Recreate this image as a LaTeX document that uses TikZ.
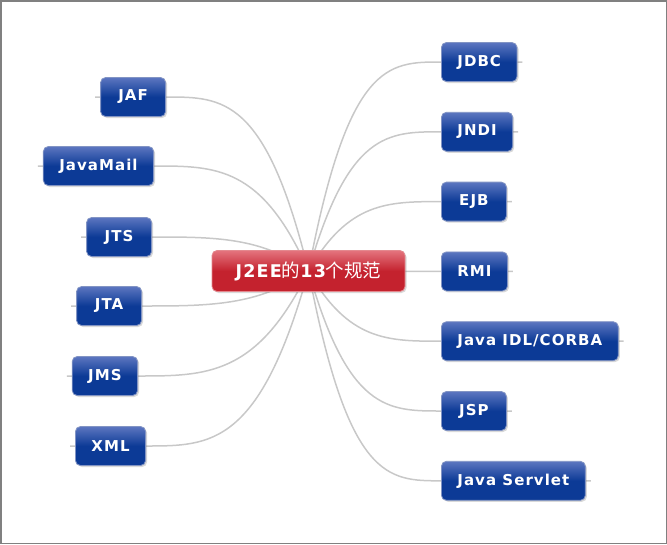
\documentclass[tikz,border=0pt]{standalone}
\usepackage{fontspec}
\usepackage{tikz}
\usetikzlibrary{positioning, calc, backgrounds, shadows}
\newfontfamily\leaffont{DejaVu Sans}[LetterSpace=7]
\newfontfamily\cjkfont{Noto Sans CJK SC}
\definecolor{leaftop}{RGB}{92,118,192}
\definecolor{leafbot}{RGB}{12,58,150}
\definecolor{leafedge}{RGB}{130,148,196}
\definecolor{roottop}{RGB}{228,116,126}
\definecolor{rootbot}{RGB}{196,34,46}
\definecolor{rootedge}{RGB}{228,136,142}
\definecolor{linkgray}{RGB}{200,200,200}
\definecolor{framegray}{RGB}{128,128,128}
\tikzset{
  leaf/.style={rectangle, rounded corners=5pt, draw=leafedge, line width=0.8pt,
               top color=leaftop, bottom color=leafbot, middle color=leafbot,
               minimum width=65pt, minimum height=39pt, inner xsep=16pt,
               text=white, font=\leaffont\bfseries\fontsize{15}{18}\selectfont,
               drop shadow={opacity=0.3, shadow xshift=1.5pt, shadow yshift=-1.5pt}},
  root/.style={leaf, draw=rootedge, top color=roottop, bottom color=rootbot,
               middle color=rootbot, minimum width=193pt, minimum height=41pt,
               font=\leaffont\bfseries\fontsize{17.5}{20}\selectfont},
  link/.style={draw=linkgray, line width=1.5pt},
  frame/.style={draw=framegray, line width=1.5pt},
}

\begin{document}
\begin{tikzpicture}[x=1pt, y=-1pt]
  \useasboundingbox (0,0) rectangle (667,544);
  \draw[frame] (0.75,0.75) rectangle (666.25,543.25);

  \node[root] (root) at (308.5,271)
    {J2EE{\cjkfont\mdseries\fontsize{18.5}{20}\selectfont 的}13{\cjkfont\mdseries\fontsize{18.5}{20}\selectfont 个规范}};

  % right column
  \node[leaf, anchor=west]                                       (jdbc)    at (441,62) {JDBC};
  \node[leaf, below=30pt of jdbc.south west, anchor=north west]  (jndi)    {JNDI};
  \node[leaf, below=30pt of jndi.south west, anchor=north west]  (ejb)     {EJB};
  \node[leaf, below=30pt of ejb.south west, anchor=north west]   (rmi)     {RMI};
  \node[leaf, below=30pt of rmi.south west, anchor=north west]   (corba)   {Java IDL/CORBA};
  \node[leaf, below=30pt of corba.south west, anchor=north west] (jsp)     {JSP};
  \node[leaf, below=30pt of jsp.south west, anchor=north west]   (servlet) {Java Servlet};

  % left column
  \node[leaf, anchor=east] (jaf)      at (166,97)  {JAF};
  \node[leaf, anchor=east] (javamail) at (154,166) {JavaMail};
  \node[leaf, anchor=east] (jts)      at (152,237) {JTS};
  \node[leaf, anchor=east] (jta)      at (142,306) {JTA};
  \node[leaf, anchor=east] (jms)      at (138,376) {JMS};
  \node[leaf, anchor=east] (xml)      at (146,446) {XML};

  \begin{scope}[on background layer]
    \foreach \k in {jdbc,jndi,ejb,rmi,corba,jsp,servlet}
      \draw[link] let \p1=(root.center), \p2=(\k.west) in
        (\p1) .. controls ({\x1+0.3*(\x2-\x1)},\y2) and ({\x1+0.6*(\x2-\x1)},\y2) .. (\p2)
        (\k.east) -- ++(5,0);
    \foreach \k in {jaf,javamail,jts,jta,jms,xml}
      \draw[link] let \p1=(root.center), \p2=(\k.east) in
        (\p1) .. controls ({\x1+0.3*(\x2-\x1)},\y2) and ({\x1+0.6*(\x2-\x1)},\y2) .. (\p2)
        (\k.west) -- ++(-5,0);
  \end{scope}
\end{tikzpicture}
\end{document}
